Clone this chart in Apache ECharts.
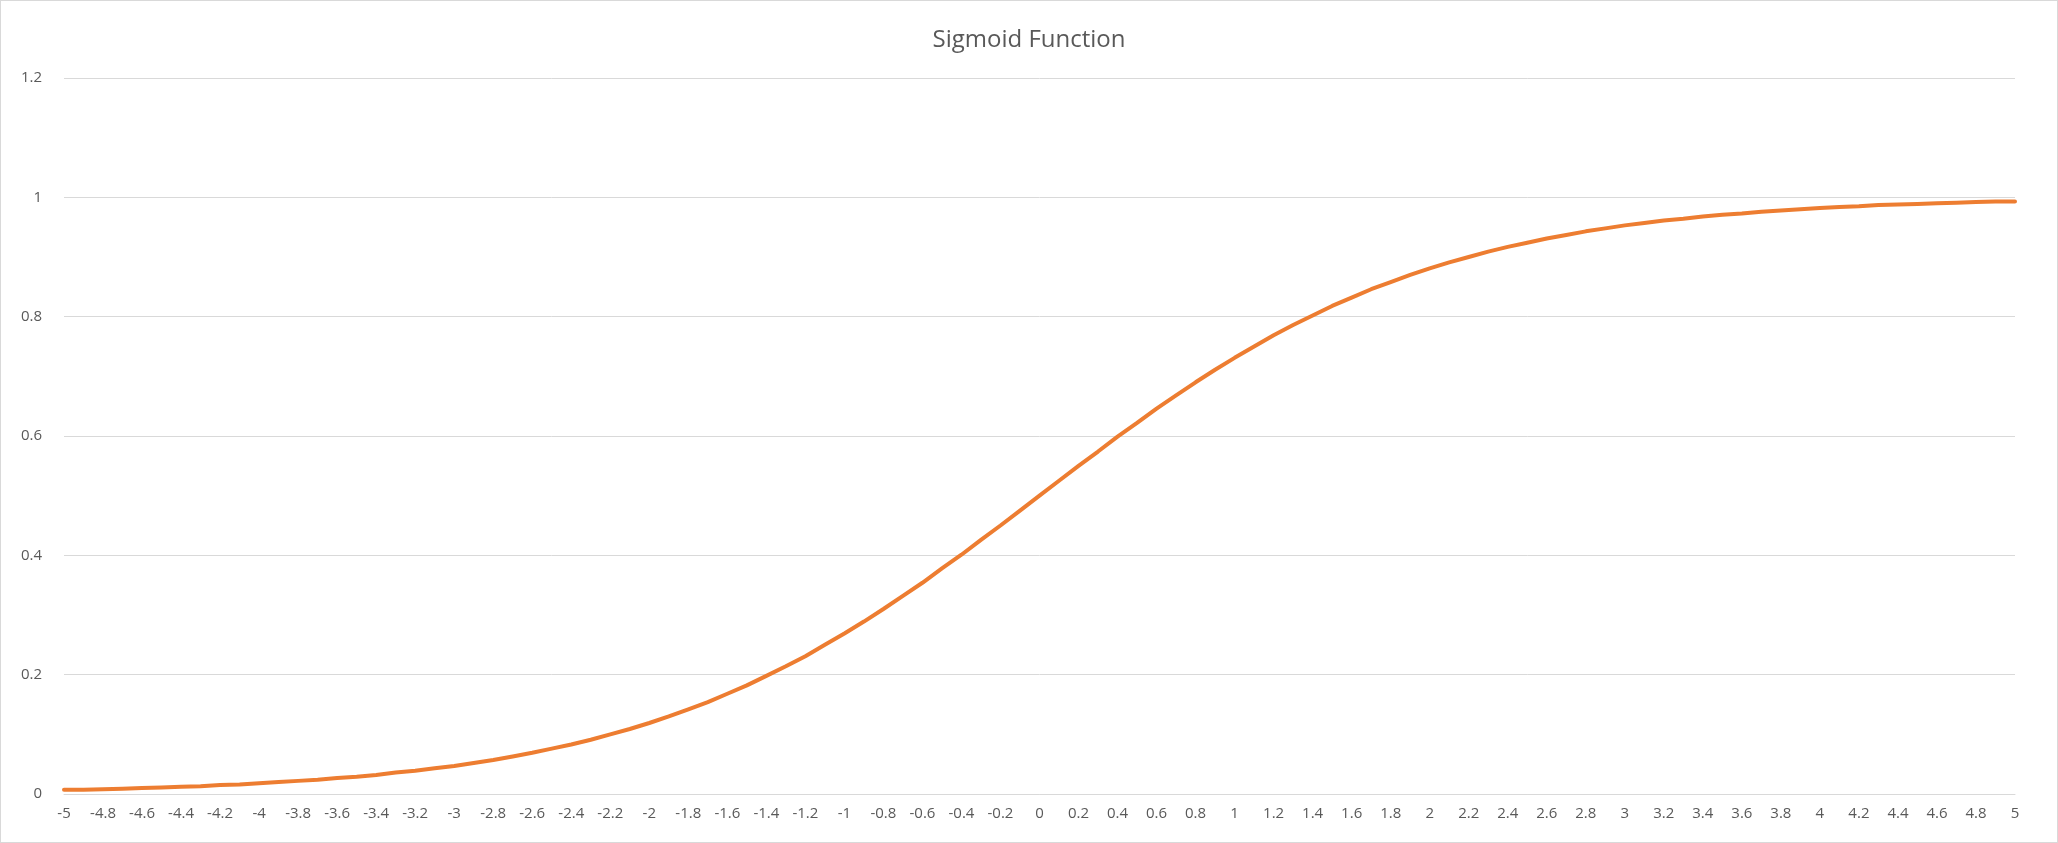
<!DOCTYPE html>
<html>
<head>
<meta charset="utf-8">
<script src="https://cdn.jsdelivr.net/npm/echarts@6/dist/echarts.min.js"></script>
<style>
html, body { margin: 0; padding: 0; background: #fff; }
#chart_container { position: absolute; left: 0; top: 0; width: 2056px; height: 841px; border: 1px solid #d9d9d9; }
</style>
</head>
<body>
<div id="chart_container"></div>
<script>
"use strict";

const xValues = [
  "-5", "-4.9", "-4.8", "-4.7", "-4.6", "-4.5", "-4.4", "-4.3", "-4.2", "-4.1",
  "-4", "-3.9", "-3.8", "-3.7", "-3.6", "-3.5", "-3.4", "-3.3", "-3.2", "-3.1",
  "-3", "-2.9", "-2.8", "-2.7", "-2.6", "-2.5", "-2.4", "-2.3", "-2.2", "-2.1",
  "-2", "-1.9", "-1.8", "-1.7", "-1.6", "-1.5", "-1.4", "-1.3", "-1.2", "-1.1",
  "-1", "-0.9", "-0.8", "-0.7", "-0.6", "-0.5", "-0.4", "-0.3", "-0.2", "-0.1",
  "0", "0.1", "0.2", "0.3", "0.4", "0.5", "0.6", "0.7", "0.8", "0.9",
  "1", "1.1", "1.2", "1.3", "1.4", "1.5", "1.6", "1.7", "1.8", "1.9",
  "2", "2.1", "2.2", "2.3", "2.4", "2.5", "2.6", "2.7", "2.8", "2.9",
  "3", "3.1", "3.2", "3.3", "3.4", "3.5", "3.6", "3.7", "3.8", "3.9",
  "4", "4.1", "4.2", "4.3", "4.4", "4.5", "4.6", "4.7", "4.8", "4.9", "5"
];

const sigmoidValues = [
  0.007, 0.007, 0.008, 0.009, 0.010, 0.011, 0.012, 0.013, 0.015, 0.016,
  0.018, 0.020, 0.022, 0.024, 0.027, 0.029, 0.032, 0.036, 0.039, 0.043,
  0.047, 0.052, 0.057, 0.063, 0.069, 0.076, 0.083, 0.091, 0.100, 0.109,
  0.119, 0.130, 0.142, 0.154, 0.168, 0.182, 0.198, 0.214, 0.231, 0.250,
  0.269, 0.289, 0.310, 0.332, 0.354, 0.378, 0.401, 0.426, 0.450, 0.475,
  0.500, 0.525, 0.550, 0.574, 0.599, 0.622, 0.646, 0.668, 0.690, 0.711,
  0.731, 0.750, 0.769, 0.786, 0.802, 0.818, 0.832, 0.846, 0.858, 0.870,
  0.881, 0.891, 0.900, 0.909, 0.917, 0.924, 0.931, 0.937, 0.943, 0.948,
  0.953, 0.957, 0.961, 0.964, 0.968, 0.971, 0.973, 0.976, 0.978, 0.980,
  0.982, 0.984, 0.985, 0.987, 0.988, 0.989, 0.990, 0.991, 0.992, 0.993, 0.993
];

const yTicks = { min: 0, max: 1.2, interval: 0.2 };

let pageLoaded = () => {
    let chartDom = document.getElementById('chart_container');
    let myChart = echarts.init(chartDom);

    let optEchart = {
        animation: false,
        title: {
            text: 'Sigmoid Function',
            left: 'center',
            top: 22,
            textStyle: { fontFamily: 'Open Sans', fontSize: 24, fontWeight: 'normal', color: '#595959' }
        },
        grid: { left: 63, right: 42, top: 77, bottom: 48 },
        xAxis: {
            type: 'category',
            data: xValues,
            boundaryGap: false,
            axisLine: { lineStyle: { color: '#d9d9d9' } },
            axisTick: { show: false },
            axisLabel: { interval: 1, color: '#595959', fontFamily: 'Open Sans', fontSize: 15, margin: 12 }
        },
        yAxis: {
            type: 'value',
            min: yTicks.min,
            max: yTicks.max,
            interval: yTicks.interval,
            axisLine: { show: false },
            axisTick: { show: false },
            splitLine: { lineStyle: { color: '#d9d9d9' } },
            axisLabel: {
                color: '#595959', fontFamily: 'Open Sans', fontSize: 15, margin: 22,
                formatter: (v) => String(Math.round(v * 10) / 10)
            }
        },
        series: [{
            type: 'line',
            data: sigmoidValues,
            showSymbol: false,
            smooth: false,
            lineStyle: { color: '#ed7d31', width: 4, cap: 'round' }
        }]
    };

    myChart.setOption(optEchart);
};

window.addEventListener('load', pageLoaded, false);
</script>
</body>
</html>
